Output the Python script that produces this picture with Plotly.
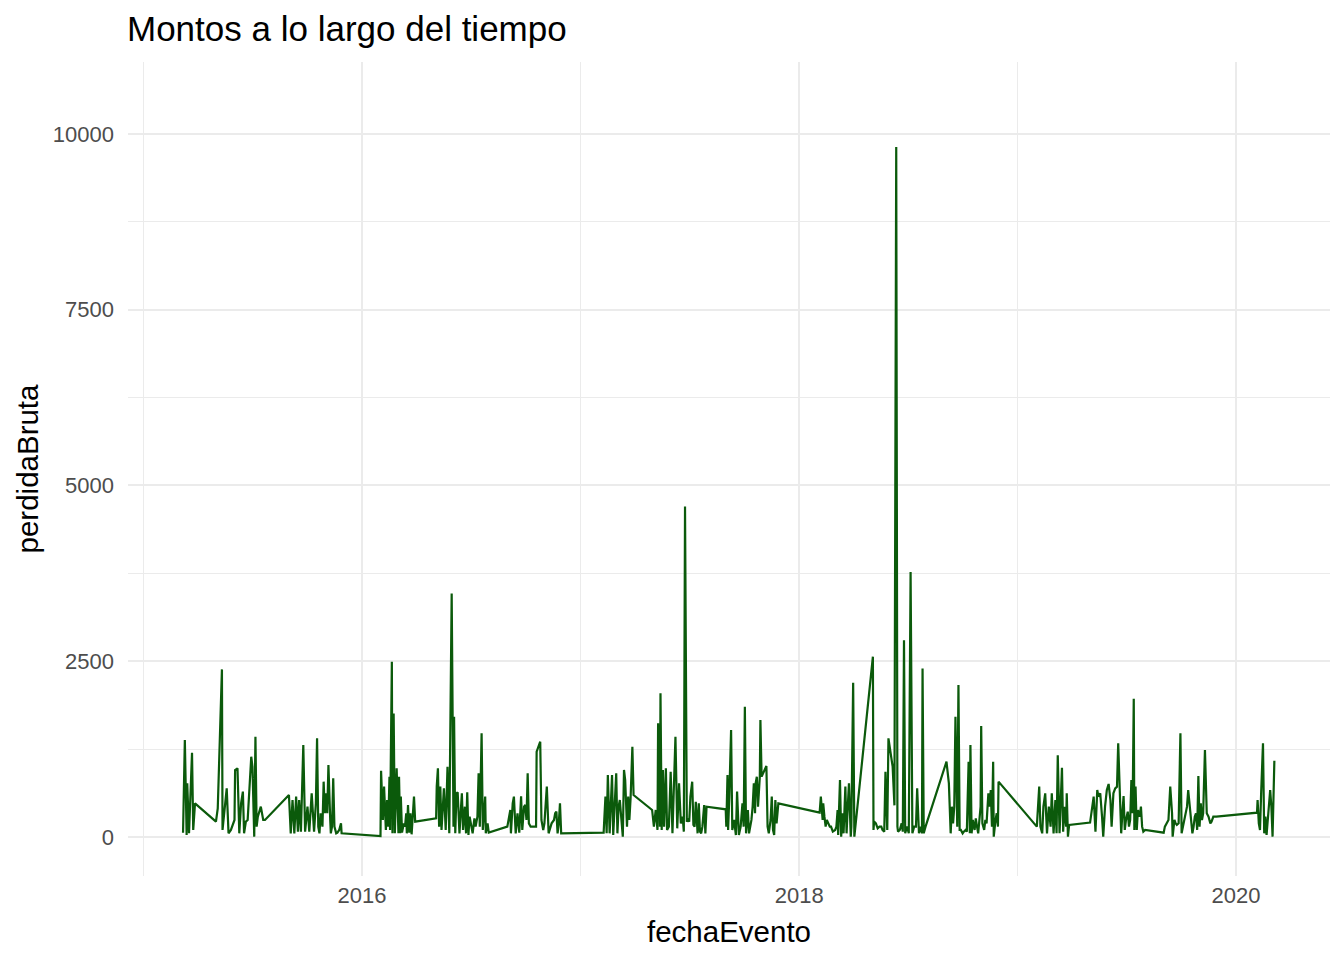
import pandas as pd
import plotly.graph_objects as go

# Event dates expressed as days since 2016-01-01
dias_desde_2016 = [
    -299, -296, -293, -292, -289, -284, -282, -279, -244, -241, -234, -233, -226, -223, -219, -213,
    -212, -208, -205, -202, -199, -197, -194, -191, -185, -183, -180, -178, -176, -174, -169, -165,
    -162, -122, -119, -116, -113, -110, -107, -105, -102, -98, -95, -91, -88, -84, -80, -77,
    -75, -73, -71, -69, -66, -64, -62, -60, -58, -56, -53, -52, -50, -48, -46, -43, -41, -38, -35, -34,
    31, 32, 35, 37, 40, 42, 44, 46, 47, 50, 51, 53, 55, 57, 58, 61, 62, 64, 65, 67, 70, 72, 74, 75,
    77, 79, 81, 83, 85, 87, 89, 124, 125, 127, 129, 131, 133, 135, 137, 140, 143, 146,
    150, 153, 154, 156, 158, 160, 163, 165, 167, 169, 172, 174, 176, 178, 180, 183, 185, 188, 190,
    193, 195, 197, 200, 202, 204, 206, 207, 210, 212, 243, 246, 248, 249, 252, 254, 257, 260, 263,
    266, 268, 271, 273, 275, 277, 279, 282, 286, 291, 292, 295, 298, 300, 303, 305, 307, 309, 312,
    314, 317, 321, 323, 325, 327, 329, 331, 333,
    404, 405, 407, 409, 411, 414, 416, 418, 420, 423, 425, 427, 429, 431, 434, 436, 438, 440, 443,
    445, 447, 449, 452, 454, 485, 488, 491, 494, 495, 498, 499, 501, 503, 505, 508, 510, 513, 516,
    519, 521, 524, 527, 530, 533, 536, 538, 540, 543, 545, 547, 549, 552, 554, 556, 558, 561, 563,
    565, 567, 569, 572, 574, 576,
    608, 609, 611, 612, 614, 617, 619, 622, 625, 627, 630, 633, 636, 638, 640, 642, 645, 647, 649,
    651, 653, 655, 657, 658, 660, 662, 665, 666, 668, 670, 673, 676, 678, 680, 683, 685, 687, 689,
    691, 693, 696, 765, 767, 770, 771, 773, 775, 777, 780, 782, 784, 787, 791, 793, 795, 796, 799,
    801, 803, 805, 808, 810, 812, 814, 817,
    818, 821, 823, 854, 855, 856, 859, 862, 865, 868, 870, 873, 875, 878, 880, 883, 887, 890, 893,
    895, 896, 899, 902, 904, 906, 908, 911, 914, 917, 920, 923, 926, 928, 931, 933, 936, 937, 939,
    942, 977, 979, 981, 984, 986, 988, 990, 992, 995, 997, 999, 1001, 1004, 1006, 1009, 1011, 1014,
    1016, 1017, 1019, 1021, 1024, 1026, 1028, 1030,
    1034, 1035, 1037, 1040, 1042, 1044, 1047, 1049, 1051, 1053, 1055, 1056, 1059, 1061, 1063, 1064,
    1128, 1130, 1132, 1134, 1137, 1139, 1142, 1145, 1148, 1151, 1153, 1156, 1159, 1161, 1163, 1166,
    1168, 1170, 1172, 1174, 1177, 1178, 1180, 1182, 1217, 1220, 1223, 1226, 1229, 1231, 1234, 1237,
    1239, 1242, 1245, 1248, 1251, 1253,
    1256, 1259, 1262, 1264, 1266, 1269, 1271, 1273, 1275, 1277, 1280, 1282, 1284, 1286, 1288, 1290,
    1291, 1293, 1295, 1297, 1300, 1302, 1304, 1306, 1309, 1340, 1342, 1345, 1348, 1351, 1354, 1355,
    1358, 1360, 1362, 1365, 1368, 1370, 1372, 1374, 1376, 1379, 1381, 1383, 1385, 1388, 1390, 1392,
    1394, 1396, 1398, 1400, 1402, 1404, 1406, 1409, 1412, 1415, 1418, 1420, 1423, 1428, 1496, 1497,
    1499, 1501, 1503, 1506, 1508, 1510, 1512, 1515, 1518, 1520, 1522, 1525,
]

perdida_bruta = [
    61, 1380, 28, 763, 52, 1199, 100, 479, 218, 408, 2384, 100, 692, 52, 100, 242,
    953, 976, 52, 479, 645, 52, 218, 242, 1142, 1000, 5, 1427, 147, 289, 431, 242,
    242, 597, 52, 526, 52, 574, 76, 526, 76, 1308, 76, 431, 76, 621, 76, 479,
    1403, 147, 52, 337, 147, 787, 337, 621, 337, 1024, 242, 52, 147, 834, 147, 52, 62, 100, 194, 52,
    14, 943, 242, 716, 100, 526, 147, 858, 100, 2493, 52, 1758, 52, 621, 976, 52, 858, 52, 574, 62, 194, 147, 337, 52,
    455, 62, 337, 38, 242, 574, 218, 265, 716, 976, 147, 716, 100, 431, 692, 100, 1000, 52,
    3465, 147, 1711, 52, 621, 635, 52, 337, 621, 100, 431, 52, 635, 28, 289, 147, 52, 265, 147,
    289, 906, 147, 1474, 100, 289, 574, 52, 194, 62, 147, 289, 384, 52, 479, 574, 52, 337, 62,
    578, 100, 431, 455, 242, 906, 194, 147, 147, 147, 1213, 1284, 1355, 242, 100, 194, 431, 716, 52,
    100, 194, 242, 337, 360, 52, 194, 479, 52,
    61, 242, 574, 52, 882, 52, 526, 882, 28, 621, 906, 52, 431, 526, 147, 5, 953, 811, 147,
    574, 242, 550, 1284, 597, 384, 147, 384, 100, 1616, 147, 2043, 100, 953, 147, 976, 100, 147, 929,
    52, 574, 1427, 123, 763, 194, 289, 76, 4700, 218, 242, 218, 574, 787, 171, 147, 502, 52, 479,
    76, 52, 147, 455, 52, 431,
    394, 147, 882, 100, 574, 1522, 100, 242, 28, 645, 28, 147, 479, 147, 1853, 52, 384, 52, 147,
    242, 431, 763, 337, 763, 858, 431, 858, 1664, 858, 906, 953, 1010, 147, 52, 242, 574, 100, 28,
    526, 194, 479, 346, 574, 242, 479, 289, 147, 242, 194, 147, 147, 76, 100, 147, 384, 28, 811,
    5, 337, 52, 716, 52, 431, 763, 5,
    147, 2195, 5, 2565, 100, 218, 194, 123, 147, 147, 100, 76, 929, 100, 1403, 1237, 1000, 450, 9816,
    147, 76, 100, 194, 76, 2800, 52, 147, 52, 3770, 52, 147, 147, 692, 52, 147, 52, 2398, 52,
    147, 1071, 858, 763, 52, 431, 194, 431, 1711, 147, 2161, 100, 100, 52, 76, 100, 76, 1071,
    52, 1308, 52, 242, 100, 265, 147, 52,
    431, 1578, 194, 100, 242, 194, 621, 431, 668, 147, 1071, 5, 242, 337, 147, 787,
    147, 526, 716, 147, 52, 431, 621, 52, 431, 147, 621, 52, 526, 52, 1161, 52,
    526, 986, 76, 431, 147, 621, 5, 171, 205, 431, 574, 76, 668, 574, 621, 289,
    5, 431, 668, 754, 526, 147,
    621, 692, 716, 1332, 763, 52, 337, 583, 100, 242, 360, 147, 242, 811, 337, 1967,
    100, 716, 100, 384, 289, 431, 147, 76, 100, 61, 147, 194, 242, 716, 337, 5,
    242, 194, 171, 194, 1474, 52, 147, 242, 337, 431, 668, 479, 242, 52, 147, 289,
    337, 100, 867, 147, 479, 242, 337, 1237, 337, 289, 194, 218, 289, 289, 346, 526,
    194, 100, 645, 1332, 52, 289, 28, 337, 668, 431, 5, 1085,
]

y_ticks = [0, 2500, 5000, 7500, 10000]
y_tick_labels = ["0", "2500", "5000", "7500", "10000"]
y_minor = [1250, 3750, 6250, 8750]
x_ticks = ["2016-01-01", "2018-01-01", "2020-01-01"]
x_tick_labels = ["2016", "2018", "2020"]

fecha_evento = pd.Timestamp("2016-01-01") + pd.to_timedelta(dias_desde_2016, unit="D")

fig = go.Figure()
fig.add_trace(go.Scatter(
    x=fecha_evento, y=perdida_bruta, mode="lines",
    line=dict(color="#0b5a0b", width=2.2),
    showlegend=False, hoverinfo="x+y",
))

font_family = "Liberation Sans, Arial, sans-serif"
grid = "#EBEBEB"

W, H = 1336, 952

fig.update_layout(
    width=W, height=H,
    margin=dict(l=120, r=14, t=54, b=84, autoexpand=False),
    paper_bgcolor="white", plot_bgcolor="white",
    font=dict(family=font_family, color="#000000"),
    title=dict(text="Montos a lo largo del tiempo", x=119 / W, xanchor="left",
               y=1 - 21 / H, yanchor="middle",
               font=dict(size=35, color="#000000", family=font_family)),
    xaxis=dict(
        type="date", automargin=False,
        range=["2014-12-06", "2020-06-06"],
        tickvals=x_ticks, ticktext=x_tick_labels,
        showgrid=True, gridcolor=grid, gridwidth=2,
        minor=dict(dtick="M12", tick0="2015-01-01", showgrid=True, gridcolor=grid, gridwidth=1),
        zeroline=False, showline=False, ticks="",
        tickfont=dict(size=22, color="#4D4D4D"),
        ticklabelstandoff=4,
        title=dict(text="fechaEvento", font=dict(size=29.5, color="#000000"), standoff=14),
    ),
    yaxis=dict(
        automargin=False,
        range=[-555, 11024],
        tickvals=y_ticks, ticktext=y_tick_labels,
        showgrid=True, gridcolor=grid, gridwidth=2,
        minor=dict(tickvals=y_minor, showgrid=True, gridcolor=grid, gridwidth=1),
        zeroline=False, showline=False, ticks="",
        tickfont=dict(size=22, color="#4D4D4D"),
        ticklabelstandoff=13,
        title=dict(text="perdidaBruta", font=dict(size=29.5, color="#000000"), standoff=5),
    ),
)

fig.write_html("out.html")
